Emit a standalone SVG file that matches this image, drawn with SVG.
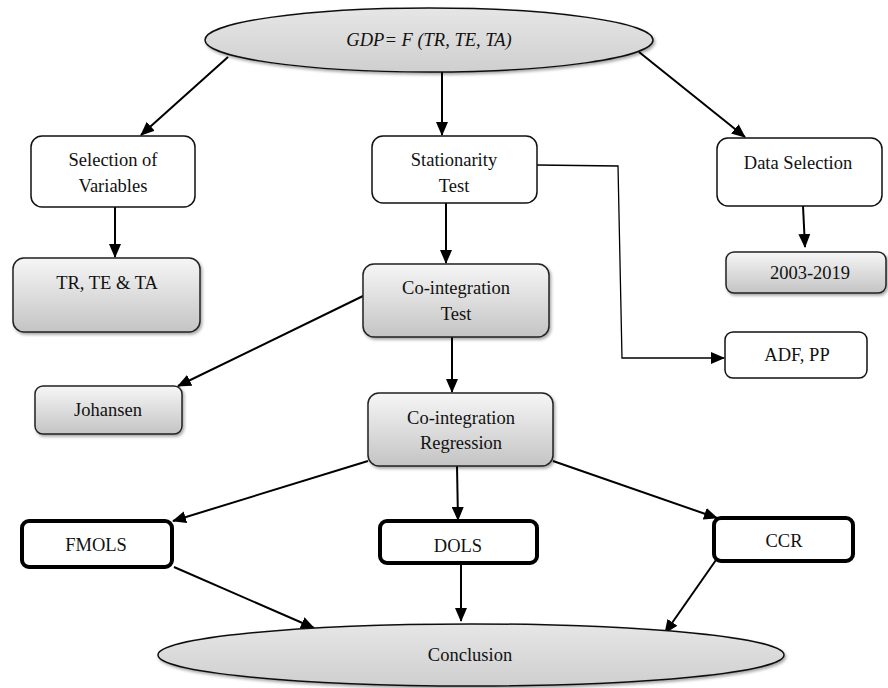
<svg xmlns="http://www.w3.org/2000/svg" width="888" height="688" viewBox="0 0 888 688">
<style>
text{font-size:18.5px;fill:#111;text-anchor:middle}
.it{font-style:italic}
.w{fill:#fff;stroke:#111;stroke-width:1.5}
.g{fill:url(#gb);stroke:#222;stroke-width:1.5;filter:url(#sh)}
.e{fill:url(#ge);stroke:#111;stroke-width:1.5;filter:url(#sh)}
.t{fill:#fff;stroke:#000;stroke-width:4}
.c{fill:none;stroke:#000;stroke-width:2;marker-end:url(#ah)}
.c1{fill:none;stroke:#000;stroke-width:1.3;marker-end:url(#ah)}
</style>
<defs>
<linearGradient id="gb" x1="0" y1="0" x2="0" y2="1"><stop offset="0" stop-color="#f6f6f6"/><stop offset="1" stop-color="#c4c4c4"/></linearGradient>
<linearGradient id="ge" x1="0" y1="0" x2="0" y2="1"><stop offset="0" stop-color="#e6e6e6"/><stop offset="1" stop-color="#cfcfcf"/></linearGradient>
<filter id="sh" x="-10%" y="-10%" width="125%" height="140%"><feDropShadow dx="1.5" dy="2" stdDeviation="1.5" flood-color="#000" flood-opacity="0.35"/></filter>
<marker id="ah" markerUnits="userSpaceOnUse" markerWidth="14" markerHeight="12" refX="13" refY="6" orient="auto"><path d="M0,0 L14,6 L0,12 Z" fill="#000"/></marker>
</defs>
<g id="connectors">
<path class="c" d="M228,57 L141,135"/>
<path class="c" d="M442,72 L442,135"/>
<path class="c" d="M639,52 L745,137"/>
<path class="c" d="M115,207 L115,257"/>
<path class="c" d="M446,203 L446,263"/>
<path class="c" d="M803,206 L805,247"/>
<path class="c1" d="M537,165 L618,166 L622,358 L724,358"/>
<path class="c" d="M363,296 L178,386"/>
<path class="c" d="M452,337 L452,392"/>
<path class="c" d="M368,461 L173,521"/>
<path class="c" d="M457,466 L458,520"/>
<path class="c" d="M553,461 L717,518"/>
<path class="c" d="M174,567 L314,628"/>
<path class="c" d="M461,563 L461,621"/>
<path class="c" d="M716,560 L665,633"/>
</g>
<g font-family="Liberation Serif, DejaVu Serif, Times New Roman, serif">
<g id="gdp"><ellipse class="e" cx="429" cy="40" rx="224" ry="32"/><text class="it" x="429" y="46">GDP= F (TR, TE, TA)</text></g>
<g id="selection"><rect class="w" x="31" y="136" width="164" height="71" rx="11"/><text x="113" y="166">Selection of</text><text x="113" y="192">Variables</text></g>
<g id="stationarity"><rect class="w" x="372" y="136" width="165" height="67" rx="11"/><text x="454" y="166">Stationarity</text><text x="454" y="192">Test</text></g>
<g id="dataselection"><rect class="w" x="717" y="138" width="165" height="68" rx="11"/><text x="798" y="169">Data Selection</text></g>
<g id="trteta"><rect class="g" x="13" y="258" width="187" height="74" rx="11"/><text x="107" y="289">TR, TE &amp; TA</text></g>
<g id="cointtest"><rect class="g" x="363" y="264" width="186" height="73" rx="11"/><text x="456" y="294">Co-integration</text><text x="456" y="320">Test</text></g>
<g id="y20032019"><rect class="g" x="726" y="252" width="160" height="41" rx="8"/><text x="810" y="279">2003-2019</text></g>
<g id="adfpp"><rect class="w" x="725" y="332" width="142" height="46" rx="8"/><text x="797" y="361">ADF, PP</text></g>
<g id="johansen"><rect class="g" x="35" y="386" width="147" height="48" rx="8"/><text x="108" y="416">Johansen</text></g>
<g id="cointreg"><rect class="g" x="368" y="393" width="185" height="73" rx="11"/><text x="461" y="424">Co-integration</text><text x="461" y="449">Regression</text></g>
<g id="fmols"><rect class="t" x="22" y="521" width="150" height="46" rx="7"/><text x="96" y="551">FMOLS</text></g>
<g id="dols"><rect class="t" x="380" y="521" width="157" height="42" rx="7"/><text x="458" y="552">DOLS</text></g>
<g id="ccr"><rect class="t" x="714" y="518" width="139" height="43" rx="7"/><text x="784" y="547">CCR</text></g>
<g id="conclusion"><ellipse class="e" cx="471" cy="655" rx="313" ry="31"/><text x="470" y="661">Conclusion</text></g>
</g>
</svg>
